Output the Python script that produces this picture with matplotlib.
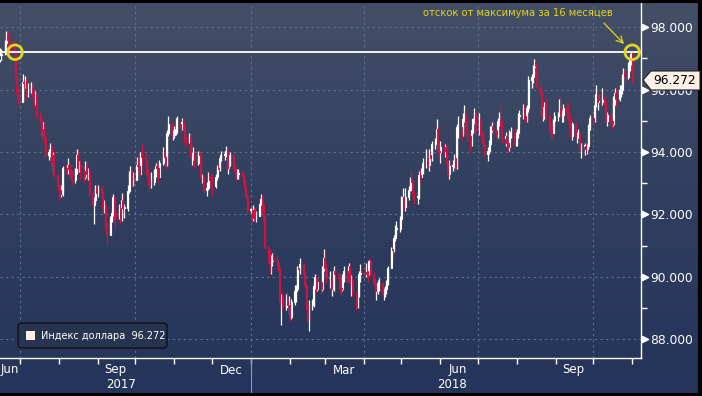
import matplotlib
matplotlib.use("Agg")
import matplotlib.pyplot as plt
import matplotlib.dates as mdates
import matplotlib.transforms as mtransforms
from matplotlib.colors import LinearSegmentedColormap
from matplotlib.patches import FancyBboxPatch, Polygon, Rectangle
import numpy as np
import pandas as pd

# ---- data: daily dollar index candles, 15 Jun 2017 .. 1 Nov 2018 ----
first_open = 96.95

closes = [
    97.10, 97.15, 97.50, 97.80, 97.60, 97.40, 97.30, 97.25, 96.40, 96.00, 95.70, 95.60,  # Jun 17
    96.25, 96.20, 96.30, 95.85, 96.00, 96.10, 95.80, 95.60, 95.80, 95.15, 95.05, 94.60, 94.75, 94.45, 93.90, 94.00, 94.20, 93.65, 93.90, 93.25, 92.90,  # Jul
    92.80, 92.65, 92.80, 93.50, 93.45, 93.60, 93.45, 93.40, 93.10, 93.40, 93.90, 93.50, 93.60, 93.40, 93.20, 93.60, 93.30, 93.35, 92.70, 92.30, 92.45, 92.85, 92.70,  # Aug
    92.85, 92.70, 92.20, 92.30, 91.65, 91.35, 91.85, 92.05, 92.55, 92.00, 91.90, 92.20, 91.85, 92.45, 92.20, 92.20, 92.75, 93.30, 93.40, 93.05, 93.10,  # Sep
    93.60, 93.55, 93.30, 93.90, 93.85, 93.70, 93.30, 93.10, 92.95, 93.05, 93.30, 93.55, 93.50, 93.20, 93.65, 93.90, 93.85, 93.60, 94.60, 94.90, 94.55, 94.55,  # Oct
    94.70, 94.75, 94.90, 94.80, 94.95, 94.90, 94.40, 94.35, 94.50, 93.85, 93.90, 93.95, 93.65, 94.00, 93.90, 93.20, 93.20, 92.80, 92.85, 93.20, 93.10, 93.00,  # Nov
    92.90, 93.20, 93.50, 93.45, 93.80, 93.90, 93.90, 94.05, 93.50, 93.60, 93.90, 93.55, 93.40, 93.20, 93.30, 93.30, 93.25, 93.10, 92.85, 92.60, 92.15,  # Dec
    92.15, 91.90, 92.20, 91.85, 91.95, 92.35, 92.50, 92.30, 91.95, 90.95, 90.65, 90.45, 90.50, 90.60, 90.55, 90.45, 90.30, 89.20, 89.40, 89.05, 89.30, 89.10, 89.10,  # Jan 18
    88.70, 89.20, 89.55, 89.60, 90.30, 90.25, 90.40, 90.10, 89.75, 89.10, 88.65, 89.10, 89.10, 89.70, 90.00, 89.60, 89.85, 89.60, 90.30, 90.60,  # Feb
    90.30, 89.95, 89.95, 89.60, 89.60, 90.20, 90.10, 89.95, 89.65, 89.60, 90.00, 90.20, 89.90, 90.35, 89.80, 89.90, 89.50, 89.10, 89.40, 90.10, 90.20, 90.15,  # Mar
    90.10, 90.20, 90.10, 90.50, 90.10, 89.80, 89.55, 89.60, 89.80, 89.80, 89.45, 89.50, 89.60, 89.80, 90.30, 90.90, 90.85, 91.25, 91.55, 91.55, 91.85,  # Apr
    92.50, 92.55, 92.25, 92.55, 92.80, 93.10, 93.05, 92.65, 92.55, 92.55, 93.25, 93.20, 93.40, 93.65, 93.70, 93.60, 93.90, 93.80, 94.25, 94.35, 94.75, 94.05, 94.00,  # May
    94.15, 94.05, 94.15, 93.65, 93.30, 93.55, 93.60, 93.80, 93.50, 94.80, 94.80, 94.65, 95.05, 95.20, 94.90, 94.50, 94.35, 94.70, 95.05, 95.25, 94.65,  # Jun
    95.00, 94.60, 94.55, 94.30, 93.95, 94.05, 94.25, 94.75, 94.85, 94.70, 94.50, 95.00, 95.05, 94.85, 94.45, 94.50, 94.30, 94.15, 94.60, 94.65, 94.30, 94.55,  # Jul
    94.60, 95.15, 95.20, 95.40, 95.15, 95.10, 95.40, 96.30, 96.40, 96.70, 96.70, 96.65, 96.10, 95.90, 95.20, 95.20, 95.50, 95.15, 94.80, 94.70, 94.60, 95.00, 95.15,  # Aug
    95.20, 95.40, 95.20, 95.20, 95.40, 95.30, 95.20, 94.80, 94.50, 94.90, 94.50, 94.55, 94.60, 94.10, 94.20, 94.20, 94.10, 94.20, 94.80, 95.10,  # Sep
    95.00, 95.50, 95.85, 95.60, 95.60, 95.75, 95.70, 95.55, 95.00, 95.20, 95.00, 94.90, 95.60, 95.90, 95.70, 96.00, 96.00, 96.40, 96.60, 96.40, 96.70, 97.00, 97.15,  # Oct
    96.272,  # Nov
]

highs = [
    97.35, 97.30, 97.60, 97.87, 97.85, 97.65, 97.50, 97.55, 97.40, 96.50, 96.10, 95.90,
    96.50, 96.35, 96.45, 96.35, 96.20, 96.25, 96.25, 95.95, 95.95, 95.85, 95.30, 95.10, 94.95, 94.90, 94.55, 94.10, 94.30, 94.30, 94.00, 94.00, 93.30,
    93.05, 92.95, 92.95, 93.55, 93.60, 93.80, 93.75, 93.60, 93.40, 93.50, 94.10, 94.05, 93.70, 93.70, 93.45, 93.70, 93.70, 93.50, 93.45, 92.80, 92.55, 92.95, 93.00,
    92.95, 92.90, 92.75, 92.45, 92.40, 91.75, 91.95, 92.15, 92.65, 92.60, 92.20, 92.35, 92.30, 92.70, 92.70, 92.35, 92.95, 93.40, 93.55, 93.40, 93.35,
    93.85, 93.85, 93.70, 94.00, 94.25, 94.00, 93.75, 93.50, 93.20, 93.35, 93.45, 93.65, 93.75, 93.60, 93.75, 94.15, 94.05, 93.95, 94.70, 95.15, 94.95, 94.70,
    94.85, 95.10, 95.15, 95.05, 95.10, 95.05, 94.95, 94.55, 94.60, 94.60, 94.00, 94.15, 94.00, 94.05, 94.10, 93.95, 93.30, 93.30, 93.05, 93.35, 93.40, 93.30,
    93.30, 93.30, 93.60, 93.65, 93.85, 94.05, 94.05, 94.20, 94.10, 93.75, 94.00, 93.90, 93.60, 93.50, 93.45, 93.45, 93.35, 93.35, 93.15, 92.90, 92.65,
    92.20, 92.20, 92.30, 92.20, 92.10, 92.40, 92.65, 92.65, 92.35, 92.00, 91.00, 90.90, 90.70, 90.75, 90.80, 90.70, 90.55, 90.30, 89.45, 89.50, 89.45, 89.55, 89.40,
    89.20, 89.30, 89.75, 89.75, 90.35, 90.45, 90.60, 90.45, 90.15, 89.80, 89.15, 89.25, 89.30, 89.80, 90.10, 90.05, 89.95, 89.95, 90.35, 90.90,
    90.90, 90.40, 90.20, 90.05, 89.85, 90.35, 90.35, 90.15, 90.00, 89.85, 90.10, 90.35, 90.30, 90.45, 90.40, 90.05, 90.00, 89.55, 89.50, 90.20, 90.40, 90.25,
    90.45, 90.45, 90.40, 90.55, 90.60, 90.15, 89.95, 89.75, 89.90, 89.95, 89.85, 89.65, 89.70, 89.90, 90.35, 90.95, 91.15, 91.35, 91.65, 91.80, 91.95,
    92.60, 92.85, 92.60, 92.85, 92.90, 93.20, 93.40, 93.10, 92.75, 92.75, 93.40, 93.45, 93.50, 93.80, 94.10, 93.85, 94.10, 94.05, 94.35, 94.45, 95.05, 94.80, 94.15,
    94.35, 94.30, 94.25, 94.20, 93.70, 93.75, 93.75, 93.95, 93.95, 94.90, 95.15, 94.95, 95.25, 95.50, 95.35, 95.00, 94.60, 94.75, 95.10, 95.40, 95.30,
    95.25, 95.05, 94.65, 94.65, 94.35, 94.15, 94.40, 94.85, 94.95, 95.05, 94.75, 95.10, 95.30, 95.50, 95.00, 94.65, 94.60, 94.35, 94.70, 94.80, 94.75, 94.65,
    94.75, 95.25, 95.35, 95.55, 95.50, 95.30, 95.50, 96.45, 96.50, 96.80, 96.98, 96.85, 96.70, 96.15, 95.95, 95.45, 95.60, 95.70, 95.20, 94.95, 94.90, 95.05, 95.30,
    95.30, 95.70, 95.75, 95.35, 95.55, 95.60, 95.60, 95.25, 95.05, 94.95, 94.95, 94.65, 94.75, 94.60, 94.30, 94.30, 94.30, 94.25, 94.90, 95.20,
    95.25, 95.60, 96.15, 95.90, 95.85, 96.05, 95.95, 95.80, 95.65, 95.30, 95.30, 95.05, 95.80, 96.05, 96.05, 96.15, 96.15, 96.50, 96.70, 96.70, 96.90, 97.05, 97.20,
    97.20,
]

lows = [
    96.90, 96.95, 97.10, 97.45, 97.50, 97.30, 97.15, 97.15, 96.30, 95.90, 95.55, 95.50,
    95.60, 96.05, 96.05, 95.70, 95.75, 95.90, 95.70, 95.40, 95.50, 95.10, 94.95, 94.50, 94.45, 94.30, 93.85, 93.75, 93.85, 93.60, 93.35, 93.20, 92.85,
    92.50, 92.50, 92.55, 92.60, 93.30, 93.30, 93.20, 93.20, 92.95, 93.00, 93.30, 93.40, 93.35, 93.15, 93.00, 93.15, 93.20, 93.10, 92.60, 92.20, 91.70, 92.35, 92.55,
    92.55, 92.55, 92.10, 92.05, 91.55, 91.05, 91.55, 91.75, 91.95, 91.80, 91.60, 91.85, 91.70, 91.80, 92.05, 91.90, 92.10, 92.70, 93.05, 92.90, 92.90,
    93.10, 93.40, 93.15, 93.30, 93.60, 93.60, 93.20, 92.95, 92.75, 92.85, 92.95, 93.20, 93.35, 93.05, 93.20, 93.60, 93.70, 93.45, 93.55, 94.50, 94.45, 94.40,
    94.45, 94.55, 94.60, 94.65, 94.70, 94.75, 94.30, 94.20, 94.30, 93.80, 93.60, 93.75, 93.50, 93.60, 93.75, 93.15, 93.00, 92.70, 92.60, 92.80, 92.95, 92.80,
    92.60, 92.85, 93.10, 93.30, 93.40, 93.70, 93.75, 93.85, 93.40, 93.30, 93.55, 93.45, 93.30, 93.10, 93.15, 93.15, 93.20, 93.00, 92.80, 92.55, 92.05,
    92.05, 91.75, 91.80, 91.75, 91.75, 91.95, 92.30, 92.05, 91.75, 90.90, 90.40, 90.10, 90.10, 90.35, 90.40, 90.35, 90.20, 89.15, 88.45, 88.95, 88.95, 89.05, 88.85,
    88.60, 88.65, 89.10, 89.20, 89.55, 90.05, 90.10, 90.00, 89.65, 88.95, 88.55, 88.25, 88.95, 89.05, 89.60, 89.50, 89.55, 89.45, 89.55, 90.20,
    90.00, 89.80, 89.65, 89.50, 89.40, 89.55, 89.90, 89.80, 89.50, 89.40, 89.55, 89.85, 89.85, 89.85, 89.75, 89.40, 89.40, 88.95, 89.00, 89.35, 89.85, 90.05,
    89.95, 90.00, 89.85, 90.05, 90.00, 89.75, 89.40, 89.25, 89.45, 89.55, 89.40, 89.25, 89.35, 89.45, 89.75, 90.30, 90.60, 90.80, 91.15, 91.35, 91.45,
    91.80, 92.30, 92.15, 92.10, 92.45, 92.75, 92.85, 92.50, 92.35, 92.35, 92.50, 93.00, 93.20, 93.30, 93.50, 93.50, 93.40, 93.55, 93.70, 94.10, 94.20, 93.95, 93.70,
    93.65, 93.90, 93.85, 93.55, 93.20, 93.15, 93.40, 93.50, 93.40, 93.45, 94.45, 94.40, 94.50, 94.95, 94.75, 94.35, 94.05, 94.20, 94.60, 94.90, 94.55,
    94.55, 94.50, 94.40, 94.15, 93.85, 93.70, 93.95, 94.20, 94.65, 94.55, 94.35, 94.45, 94.85, 94.75, 94.30, 94.20, 94.10, 94.00, 94.05, 94.45, 94.20, 94.20,
    94.20, 94.45, 94.90, 95.05, 95.00, 94.95, 94.95, 95.30, 96.05, 96.20, 96.50, 96.40, 96.05, 95.70, 95.05, 95.00, 95.05, 95.05, 94.60, 94.45, 94.45, 94.60, 94.80,
    95.00, 95.15, 95.00, 94.95, 94.95, 95.10, 95.00, 94.75, 94.45, 94.40, 94.45, 94.30, 94.45, 94.05, 93.80, 93.90, 93.95, 93.95, 94.15, 94.70,
    94.85, 94.95, 95.45, 95.50, 95.35, 95.50, 95.50, 95.45, 94.95, 94.85, 94.80, 94.75, 94.85, 95.50, 95.45, 95.65, 95.75, 95.85, 96.30, 96.20, 96.35, 96.60, 96.80,
    96.20,
]

last_value = 96.272
peak_level = 97.2
y_ticks = [88, 90, 92, 94, 96, 98]
month_labels = ["Jun", "Sep", "Dec", "Mar", "Jun", "Sep"]
month_label_dates = ["2017-06-23", "2017-09-15", "2017-12-16", "2018-03-16", "2018-06-15", "2018-09-15"]
years = ["2017", "2018"]
legend_label = "Индекс доллара"
note = "отскок от максимума за 16 месяцев"

dates = pd.bdate_range("2017-06-15", "2018-11-01")
assert len(dates) == len(closes) == len(highs) == len(lows)
opens = [first_open] + closes[:-1]

W, H = 702, 396
RED = "#cc1442"
YELLOW = "#e3d51b"

fig = plt.figure(figsize=(W / 100, H / 100), dpi=100)

# gradient background
bg = fig.add_axes([0, 0, 1, 1], zorder=-10)
cmap = LinearSegmentedColormap.from_list("bg", ["#444f67", "#303f5f", "#24345a"])
bg.imshow(np.linspace(0, 1, 256)[:, None], aspect="auto", cmap=cmap,
          extent=[0, 1, 0, 1], origin="upper")
bg.axis("off")

ax_bottom = 358
ax = fig.add_axes([0, 1 - ax_bottom / H, 641 / W, ax_bottom / H])
ax.patch.set_alpha(0)

x = mdates.date2num(dates)
o = np.array(opens)
c = np.array(closes)
hi = np.maximum(np.array(highs), np.maximum(o, c))
lo = np.minimum(np.array(lows), np.minimum(o, c))
up = c >= o

# wicks
ax.vlines(x[up], lo[up], hi[up], color="white", lw=0.9, zorder=3)
ax.vlines(x[~up], lo[~up], hi[~up], color=RED, lw=0.9, zorder=3)
# bodies
body = np.maximum(np.abs(c - o), 0.03)
ax.bar(x[up], body[up], bottom=np.minimum(o, c)[up], width=0.8,
       facecolor="#33415f", edgecolor="white", lw=0.8, zorder=4)
ax.bar(x[~up], body[~up], bottom=np.minimum(o, c)[~up], width=0.8,
       facecolor=RED, edgecolor=RED, lw=0.8, zorder=4)

ax.set_xlim(mdates.date2num(pd.Timestamp("2017-06-15")),
            mdates.date2num(pd.Timestamp("2018-11-08")))
ax.set_ylim(87.40, 98.875)

# peak line and circles
ax.axhline(peak_level, color="white", lw=1.3, zorder=5)
ax.scatter([mdates.date2num(pd.Timestamp("2017-06-27")), x[-1]], [peak_level, peak_level],
           s=110, facecolors="none", edgecolors=YELLOW, linewidths=2, zorder=6)

# spines
for s in ["top", "left"]:
    ax.spines[s].set_visible(False)
for s in ["right", "bottom"]:
    ax.spines[s].set_color("white")
    ax.spines[s].set_linewidth(1)

# y axis on the right
ax.yaxis.tick_right()
ax.set_yticks(y_ticks)
ax.set_yticklabels([f"{v:.3f}" for v in y_ticks])
ax.set_yticks([89, 91, 93, 95, 97], minor=True)
ax.tick_params(axis="y", which="major", length=0, pad=6.5, labelsize=8.8, labelcolor="white")
ax.tick_params(axis="y", which="minor", length=4, width=1, color="white")
tri_tr = mtransforms.blended_transform_factory(ax.transAxes, ax.transData) + \
    mtransforms.ScaledTranslation(3.5 / 100, 0, fig.dpi_scale_trans)
ax.scatter(np.ones(len(y_ticks)), y_ticks, marker=">", s=20, color="white",
           transform=tri_tr, clip_on=False, zorder=7)

# x axis: month ticks, quarter gridlines
quarters = pd.date_range("2017-07-01", "2018-10-01", freq="QS-JUL")
months = pd.date_range("2017-07-01", "2018-11-01", freq="MS")
ax.set_xticks(mdates.date2num(quarters))
ax.set_xticks(mdates.date2num(months), minor=True)
ax.set_xticklabels([])
ax.tick_params(axis="x", which="both", length=4, width=1, color="white", direction="out")

ax.grid(True, which="major", color="#5d7190", lw=0.8, linestyle=(0, (2, 3)))

for lab, d in zip(month_labels, month_label_dates):
    ax.annotate(lab, xy=(mdates.date2num(pd.Timestamp(d)), 0),
                xycoords=("data", "axes fraction"), xytext=(0, -12),
                textcoords="offset pixels", ha="center", va="center",
                color="white", fontsize=8.5, annotation_clip=False)

def fp(px, py):
    return px / W, 1 - py / H

fig.text(*fp(121, 385), years[0], color="white", fontsize=8.5, ha="center", va="center")
fig.text(*fp(452, 385), years[1], color="white", fontsize=8.5, ha="center", va="center")
jan = mdates.date2num(pd.Timestamp("2018-01-01"))
sep_tr = mtransforms.blended_transform_factory(ax.transData, ax.transAxes)
ax.plot([jan, jan], [0, -40 / ax_bottom], color="#8f9bb0", lw=0.8,
        transform=sep_tr, clip_on=False)

# annotation
fig.text(*fp(518, 13), note, color=YELLOW, fontsize=7.2, ha="center", va="center")
ax.annotate("", xy=(626, H - 46), xycoords="figure pixels",
            xytext=(602, H - 21), textcoords="figure pixels",
            arrowprops=dict(arrowstyle="->", color=YELLOW, lw=0.9, mutation_scale=12))

# last price tag
tag = Polygon([fp(643, 80), fp(651, 71), fp(700, 71), fp(700, 90), fp(651, 90)],
              closed=True, transform=fig.transFigure, facecolor="#fdf1e7",
              edgecolor="#222222", lw=0.8, zorder=10)
fig.add_artist(tag)
fig.text(*fp(675, 80.5), f"{last_value:.3f}", color="black", fontsize=8.8,
         ha="center", va="center", zorder=11)

# legend box
ident = mtransforms.IdentityTransform()
fig.add_artist(FancyBboxPatch((18, H - 348), 149, 25, boxstyle="round,pad=0,rounding_size=4",
                              transform=ident, facecolor="#27344f", edgecolor="#101010", lw=1))
fig.add_artist(Rectangle((26, H - 340), 9, 9, transform=ident,
                         facecolor="#fdf1e7", edgecolor="none"))
fig.text(*fp(41, 336), f"{legend_label}  {last_value:.3f}", color="white",
         fontsize=7, ha="left", va="center")

# outer dark frame (top, right, bottom)
fig.add_artist(Rectangle((-5, 1), W + 3, H - 2, transform=ident, fill=False,
                         edgecolor="black", lw=3))

fig.savefig("out.png", dpi=100)
